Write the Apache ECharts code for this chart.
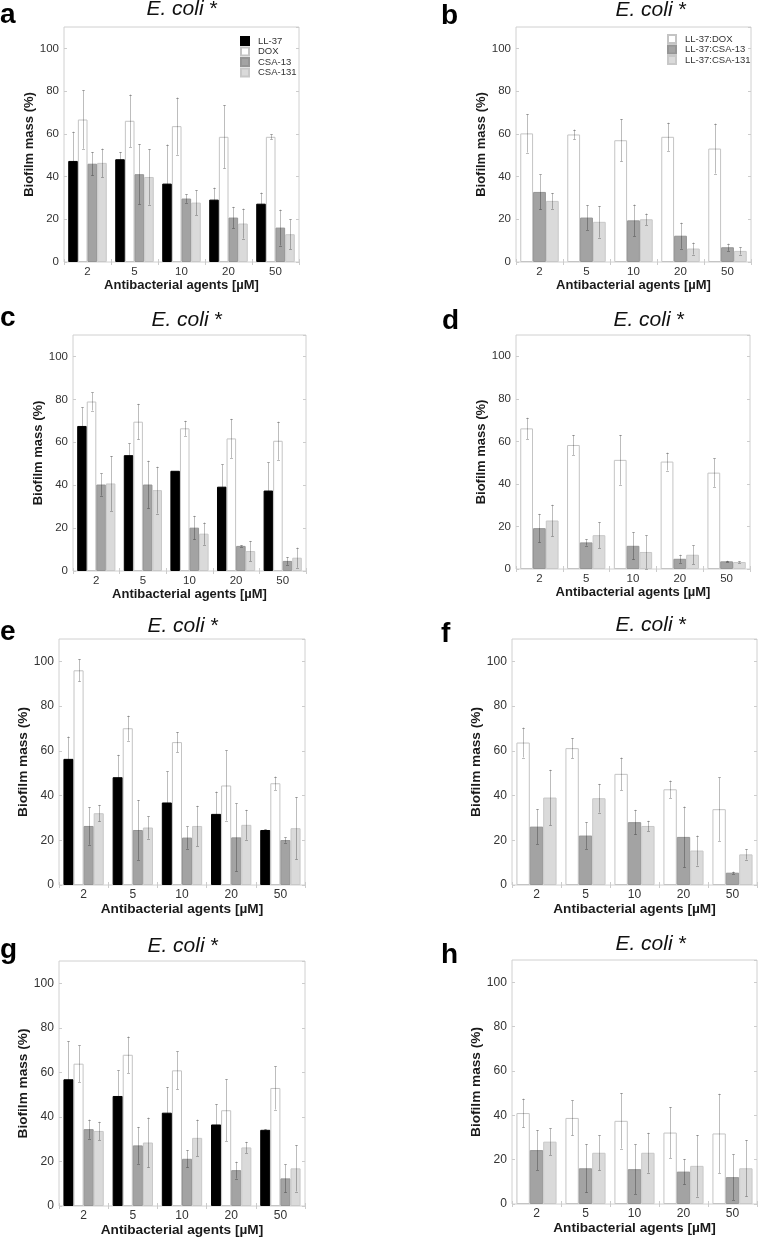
<!DOCTYPE html>
<html><head><meta charset="utf-8">
<script src="https://cdn.jsdelivr.net/npm/echarts@6/dist/echarts.min.js"></script>
<style>html,body{margin:0;padding:0;background:#fff}#c{width:758px;height:1239px}</style>
</head><body><div id="c"></div>
<script>
// ---------- data ----------
const categories = ['2', '5', '10', '20', '50'];
const singleNames = ['LL-37', 'DOX', 'CSA-13', 'CSA-131'];
const comboNames = ['LL-37:DOX', 'LL-37:CSA-13', 'LL-37:CSA-131'];
const panelTitle = 'E. coli';
const xAxisTitle = 'Antibacterial agents [µM]';
const yAxisTitle = 'Biofilm mass (%)';

// panel a (LL-37, DOX, CSA-13, CSA-131)
const aValues = [[47.3, 48.1, 36.7, 29.2, 27.3], [66.7, 66.1, 63.6, 58.6, 58.6], [46.0, 41.1, 29.7, 20.8, 16.1], [46.4, 39.8, 27.8, 18.0, 13.0]];
const aErrors = [[13.7, 3.4, 18.3, 5.6, 5.2], [13.7, 12.3, 13.4, 14.8, 1.2], [5.5, 14.1, 2.0, 5.0, 8.4], [6.7, 13.0, 5.8, 7.0, 7.0]];
// panel b (LL-37:DOX, LL-37:CSA-13, LL-37:CSA-131)
const bValues = [[60.2, 59.7, 57.0, 58.6, 53.1], [32.8, 20.8, 19.5, 12.3, 6.9], [28.6, 18.8, 20.0, 6.3, 5.2]];
const bErrors = [[9.0, 2.3, 9.9, 6.6, 11.7], [8.2, 5.8, 7.4, 6.1, 1.7], [3.7, 7.4, 2.7, 2.8, 1.7]];
// panel c
const cValues = [[67.6, 54.0, 46.7, 39.3, 37.5], [79.0, 69.6, 66.5, 61.8, 60.7], [40.3, 40.3, 20.2, 11.7, 4.7], [40.8, 37.7, 17.4, 9.3, 6.2]];
const cErrors = [[8.7, 5.5, 0, 10.4, 13.1], [4.2, 8.3, 3.5, 9.1, 8.9], [5.2, 11.1, 5.5, 0.3, 1.8], [12.8, 10.9, 5.2, 4.7, 4.7]];
// panel d
const dValues = [[66.1, 58.3, 51.3, 50.5, 45.3], [19.2, 12.5, 10.9, 4.8, 3.6], [22.8, 15.9, 8.0, 6.7, 3.3]];
const dErrors = [[5.0, 4.7, 11.7, 4.2, 6.7], [6.7, 1.5, 6.4, 1.9, 0.3], [7.4, 6.1, 7.8, 4.4, 0.3]];
// panel e
const eValues = [[56.4, 48.2, 36.9, 31.8, 24.6], [96.0, 70.1, 63.9, 44.5, 45.5], [26.4, 24.6, 21.2, 21.3, 20.1], [32.1, 25.7, 26.4, 26.9, 25.4]];
const eErrors = [[10.0, 10.0, 13.9, 10.0, 0.3], [5.0, 5.6, 4.5, 15.7, 3.0], [8.4, 13.4, 5.0, 15.2, 1.2], [3.7, 5.0, 9.0, 6.7, 13.9]];
// panel f
const fValues = [[63.7, 61.2, 49.7, 42.8, 33.9], [26.1, 22.1, 28.1, 21.5, 5.5], [39.1, 38.8, 26.4, 15.4, 13.7]];
const fErrors = [[6.7, 4.5, 7.3, 3.9, 14.2], [7.8, 6.0, 5.5, 13.6, 0.5], [12.4, 6.4, 2.3, 6.7, 2.3]];
// panel g
const gValues = [[56.9, 49.4, 41.9, 36.6, 34.2], [63.9, 67.9, 60.9, 43.0, 53.0], [34.5, 27.2, 21.2, 16.1, 12.4], [33.7, 28.5, 30.6, 26.3, 16.9]];
const gErrors = [[17.1, 11.5, 11.5, 9.1, 0.3], [8.2, 8.2, 8.5, 13.9, 9.7], [4.3, 8.3, 3.9, 3.8, 6.3], [4.1, 11.2, 8.2, 2.5, 10.4]];
// panel h
const hValues = [[41.0, 38.8, 37.5, 32.2, 31.8], [24.3, 16.1, 15.7, 14.6, 12.1], [28.1, 23.1, 23.1, 17.2, 16.1]];
const hErrors = [[6.5, 7.9, 12.5, 11.5, 17.9], [9.0, 10.9, 11.2, 5.7, 10.3], [6.0, 7.9, 9.0, 13.9, 12.7]];

// ---------- layout / style ----------
const FONT = '"Liberation Sans", Arial, sans-serif';
const singleStyles = [
  {color: '#000000', borderColor: '#000000', borderWidth: 1},
  {color: '#ffffff', borderColor: '#c4c4c4', borderWidth: 1},
  {color: '#a3a3a3', borderColor: '#959595', borderWidth: 1},
  {color: '#dadada', borderColor: '#c8c8c8', borderWidth: 1}
];
const comboStyles = [singleStyles[1], singleStyles[2], singleStyles[3]];

const panels = [
  {letter: 'a', kind: 'single', values: aValues, errors: aErrors, grid: {left: 64, top: 27, width: 235, height: 235}, letterPos: [0, 15], titlePos: [182, 9], fs: 1},
  {letter: 'b', kind: 'combo', values: bValues, errors: bErrors, grid: {left: 516, top: 27, width: 235, height: 235}, letterPos: [441, 16], titlePos: [651, 10], fs: 1},
  {letter: 'c', kind: 'single', values: cValues, errors: cErrors, grid: {left: 73, top: 335, width: 233, height: 236}, letterPos: [0, 318], titlePos: [187, 320], fs: 1},
  {letter: 'd', kind: 'combo', values: dValues, errors: dErrors, grid: {left: 516, top: 335, width: 234, height: 234}, letterPos: [442, 321], titlePos: [649, 320], fs: 1},
  {letter: 'e', kind: 'single', values: eValues, errors: eErrors, grid: {left: 59, top: 639, width: 246, height: 246}, letterPos: [0, 632], titlePos: [183, 626], fs: 1.05},
  {letter: 'f', kind: 'combo', values: fValues, errors: fErrors, grid: {left: 512, top: 639, width: 245, height: 246}, letterPos: [441, 634], titlePos: [651, 625], fs: 1.05},
  {letter: 'g', kind: 'single', values: gValues, errors: gErrors, grid: {left: 59, top: 961, width: 246, height: 245}, letterPos: [0, 950], titlePos: [183, 946], fs: 1.05},
  {letter: 'h', kind: 'combo', values: hValues, errors: hErrors, grid: {left: 512, top: 960, width: 245, height: 244}, letterPos: [441, 955], titlePos: [651, 944], fs: 1.05}
];

const grids = [], xAxes = [], yAxes = [], series = [], graphics = [];
const tickStyle = {show: true, inside: true, length: 3, lineStyle: {color: '#cccccc', width: 1}};

panels.forEach((p, i) => {
  grids.push(Object.assign({show: true, borderColor: '#d0d0d0', borderWidth: 1, backgroundColor: 'transparent'}, p.grid));
  xAxes.push({
    type: 'category', gridIndex: i, data: categories,
    axisLine: {show: false}, axisTick: tickStyle,
    axisLabel: {margin: 4, fontSize: 11.5 * p.fs, color: '#333', fontFamily: FONT},
    name: xAxisTitle, nameLocation: 'middle', nameGap: 16 * p.fs,
    nameTextStyle: {fontWeight: 'bold', fontSize: 13 * p.fs, color: '#1a1a1a', fontFamily: FONT}
  });
  xAxes.push({
    type: 'category', gridIndex: i, position: 'top', data: categories,
    axisLine: {show: false}, axisTick: tickStyle, axisLabel: {show: false}
  });
  yAxes.push({
    type: 'value', gridIndex: i, min: 0, max: 110, interval: 20,
    axisLine: {show: false}, axisTick: tickStyle, splitLine: {show: false},
    axisLabel: {margin: 5, fontSize: 11.5 * p.fs, color: '#333', fontFamily: FONT, showMaxLabel: false},
    name: yAxisTitle, nameLocation: 'middle', nameGap: 25 * p.fs,
    nameTextStyle: {fontWeight: 'bold', fontSize: 13 * p.fs, color: '#1a1a1a', fontFamily: FONT}
  });
  yAxes.push({
    type: 'value', gridIndex: i, position: 'right', min: 0, max: 110, interval: 20,
    axisLine: {show: false}, axisTick: tickStyle, splitLine: {show: false}, axisLabel: {show: false}
  });

  const names = p.kind === 'single' ? singleNames : comboNames;
  const styles = p.kind === 'single' ? singleStyles : comboStyles;
  const frac = p.kind === 'single' ? 0.205 : 0.273;
  const n = names.length;
  names.forEach((nm, k) => {
    series.push({
      type: 'bar', name: nm, xAxisIndex: 2 * i, yAxisIndex: 2 * i,
      data: p.values[k], barWidth: (frac * 100) + '%', barGap: '0%',
      itemStyle: styles[k], z: 2, silent: true
    });
    const offset = (k - (n - 1) / 2) * frac;
    series.push({
      type: 'custom', xAxisIndex: 2 * i, yAxisIndex: 2 * i, z: 5, silent: true,
      data: p.values[k].map((v, j) => [j, v, p.errors[k][j]]),
      encode: {x: 0, y: 1},
      renderItem: function (params, api) {
        const x = api.value(0), v = api.value(1), e = api.value(2);
        if (!(e > 0)) return;
        const band = api.size([1, 0])[0];
        const c = api.coord([x, v]);
        const cx = Math.round(c[0] + offset * band) + 0.5;
        const top = api.coord([x, v + e])[1];
        const bot = api.coord([x, Math.max(v - e, 0)])[1];
        const st = {stroke: 'rgba(0,0,0,0.26)', lineWidth: 1};
        const cap = 1.5;
        return {type: 'group', children: [
          {type: 'line', shape: {x1: cx, y1: top, x2: cx, y2: bot}, style: st},
          {type: 'line', shape: {x1: cx - cap, y1: Math.round(top) + 0.5, x2: cx + cap, y2: Math.round(top) + 0.5}, style: st},
          {type: 'line', shape: {x1: cx - cap, y1: Math.round(bot) + 0.5, x2: cx + cap, y2: Math.round(bot) + 0.5}, style: st}
        ]};
      }
    });
  });

  graphics.push({
    type: 'text', x: p.letterPos[0], y: p.letterPos[1], silent: true,
    style: {text: p.letter, font: 'bold 28px ' + FONT, fill: '#000', align: 'left', verticalAlign: 'middle'}
  });
  graphics.push({
    type: 'text', x: p.titlePos[0], y: p.titlePos[1], silent: true,
    style: {
      text: '{i|' + panelTitle + '} *', align: 'center', verticalAlign: 'middle',
      font: '21px ' + FONT, fill: '#111',
      rich: {i: {fontStyle: 'italic', fontSize: 21, fontFamily: FONT, fill: '#111'}}
    }
  });
});

const legendCommon = {
  orient: 'vertical', itemWidth: 8, itemHeight: 8, itemGap: 0.5, padding: 0,
  icon: 'rect', selectedMode: false,
  textStyle: {fontSize: 9.5, color: '#333', fontFamily: FONT, padding: [0, 0, 0, 4]}
};

const option = {
  animation: false,
  backgroundColor: '#ffffff',
  grid: grids, xAxis: xAxes, yAxis: yAxes, series: series,
  legend: [
    Object.assign({data: singleNames, left: 240, top: 36}, legendCommon),
    Object.assign({data: comboNames, left: 667, top: 34}, legendCommon)
  ],
  graphic: graphics
};

const chart = echarts.init(document.getElementById('c'), null, {renderer: 'canvas'});
chart.setOption(option);
</script></body></html>
